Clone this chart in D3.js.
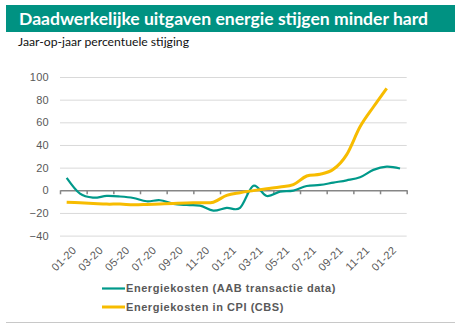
<!DOCTYPE html>
<html>
<head>
<meta charset="utf-8">
<script src="https://cdn.jsdelivr.net/npm/d3@7/dist/d3.min.js"></script>
<style>
  html, body { margin: 0; padding: 0; background: #fff; }
  svg { display: block; }
</style>
</head>
<body>
<svg id="chart" width="462" height="329"></svg>
<script>
// Monthly categories, Jan 2020 - Feb 2022
const months = ["01-20","02-20","03-20","04-20","05-20","06-20","07-20","08-20","09-20","10-20","11-20","12-20",
                "01-21","02-21","03-21","04-21","05-21","06-21","07-21","08-21","09-21","10-21","11-21","12-21",
                "01-22","02-22"];
// Year-on-year % change, energy spending from transaction data
const aabValues = [11, -3, -6.5, -5, -5.5, -6.8, -9.7, -8.8, -12, -13, -13.5, -18,
                   -15.5, -15.5, 4, -5, -1.2, -0.3, 3.8, 4.7, 6.8, 8.8, 11.5, 18, 20.8, 19.2];
// Year-on-year % change, energy component of the CPI
const cpiValues = [-10.6, -11, -11.6, -12.2, -12.2, -12.8, -12.5, -12, -11.6, -11.2, -11, -10.5,
                   -4.5, -2.1, -0.3, 1.4, 2.9, 5, 12.6, 14.1, 18.5, 31.5, 56, 73.5, 90];
const yTicks = [-40, -20, 0, 20, 40, 60, 80, 100];
const seriesNames = ["Energiekosten (AAB transactie data)", "Energiekosten in CPI (CBS)"];

const TEAL = "#00998a", GOLD = "#f7bc00", GREY = "#595959";
const svg = d3.select("#chart");

// Header bar
svg.append("rect").attr("x", 6).attr("y", 5).attr("width", 449).attr("height", 27).attr("fill", "#009282");
svg.append("text").attr("x", 19).attr("y", 24.5)
  .attr("font-family", "Lato, 'Open Sans', sans-serif").attr("font-weight", "bold")
  .attr("font-size", 17.5).attr("fill", "#fff")
  .attr("textLength", 409).attr("lengthAdjust", "spacingAndGlyphs")
  .text("Daadwerkelijke uitgaven energie stijgen minder hard");
svg.append("text").attr("x", 18).attr("y", 45.5)
  .attr("font-family", "Lato, 'Open Sans', sans-serif")
  .attr("font-size", 11.5).attr("fill", "#111")
  .attr("textLength", 171).attr("lengthAdjust", "spacingAndGlyphs")
  .text("Jaar-op-jaar percentuele stijging");

// Scales
const x = d3.scaleLinear().domain([0, months.length]).range([60, 406.7]);
const y = d3.scaleLinear().domain([-40, 100]).range([235.6, 77]);

// Horizontal gridlines
const grid = svg.append("g").attr("transform", "translate(60,0)")
  .call(d3.axisLeft(y).tickValues(yTicks.filter(v => v !== 0)).tickSize(-(406.7 - 60)).tickFormat(""));
grid.select(".domain").remove();
grid.selectAll(".tick line").attr("stroke", "#d9d9d9").attr("stroke-width", 1);

// Y tick labels
const yAxis = svg.append("g").attr("transform", "translate(49,0)")
  .call(d3.axisLeft(y).tickValues(yTicks).tickSize(0).tickPadding(0));
yAxis.select(".domain").remove();
yAxis.selectAll("text").attr("font-family", "Arial, 'Liberation Sans', sans-serif")
  .attr("font-size", 11).attr("fill", GREY).attr("letter-spacing", "0.3px");

// Zero axis with tick marks every two months
const xAxis = svg.append("g").attr("transform", `translate(0,${y(0)})`)
  .call(d3.axisBottom(x).tickValues(d3.range(0, months.length + 1, 2)).tickSize(4).tickFormat("").tickSizeOuter(0));
xAxis.select(".domain").attr("stroke", "#868686").attr("stroke-width", 1.5);
xAxis.selectAll(".tick line").attr("stroke", "#868686").attr("stroke-width", 1.5);

// Month labels along the bottom
const labelIdx = d3.range(0, months.length, 2);
const xLabels = svg.append("g").attr("transform", "translate(0,240)")
  .call(d3.axisBottom(x).tickValues(labelIdx.map(i => i + 0.5)).tickSize(0)
    .tickFormat(d => months[Math.round(d - 0.5)]));
xLabels.select(".domain").remove();
xLabels.selectAll("text")
  .attr("font-family", "Arial, 'Liberation Sans', sans-serif").attr("font-size", 11)
  .attr("fill", GREY).attr("letter-spacing", "0.3px")
  .attr("text-anchor", "end").attr("dy", "0.35em")
  .attr("transform", "translate(5,6) rotate(-45)");

// Lines
const line = d3.line().x((d, i) => x(i + 0.5)).y(d => y(d)).curve(d3.curveCardinal.tension(0));
svg.append("path").datum(aabValues).attr("d", line)
  .attr("fill", "none").attr("stroke", TEAL).attr("stroke-width", 2.2).attr("stroke-linejoin", "round");
svg.append("path").datum(cpiValues).attr("d", line)
  .attr("fill", "none").attr("stroke", GOLD).attr("stroke-width", 3).attr("stroke-linejoin", "round");

// Legend
const legend = svg.append("g");
[[seriesNames[0], TEAL, 2.2, 288.5], [seriesNames[1], GOLD, 3, 307]].forEach(([name, col, w, ly]) => {
  legend.append("line").attr("x1", 102).attr("x2", 125).attr("y1", ly).attr("y2", ly)
    .attr("stroke", col).attr("stroke-width", w);
  legend.append("text").attr("x", 126).attr("y", ly).attr("dy", "0.36em")
    .attr("font-family", "Arial, 'Liberation Sans', sans-serif").attr("font-weight", "bold")
    .attr("font-size", 11).attr("fill", GREY).attr("letter-spacing", "0.55px")
    .text(name);
});

// Bottom rule
svg.append("line").attr("x1", 6).attr("x2", 455).attr("y1", 322.5).attr("y2", 322.5)
  .attr("stroke", "#c8c8c8").attr("stroke-width", 1);
</script>
</body>
</html>
